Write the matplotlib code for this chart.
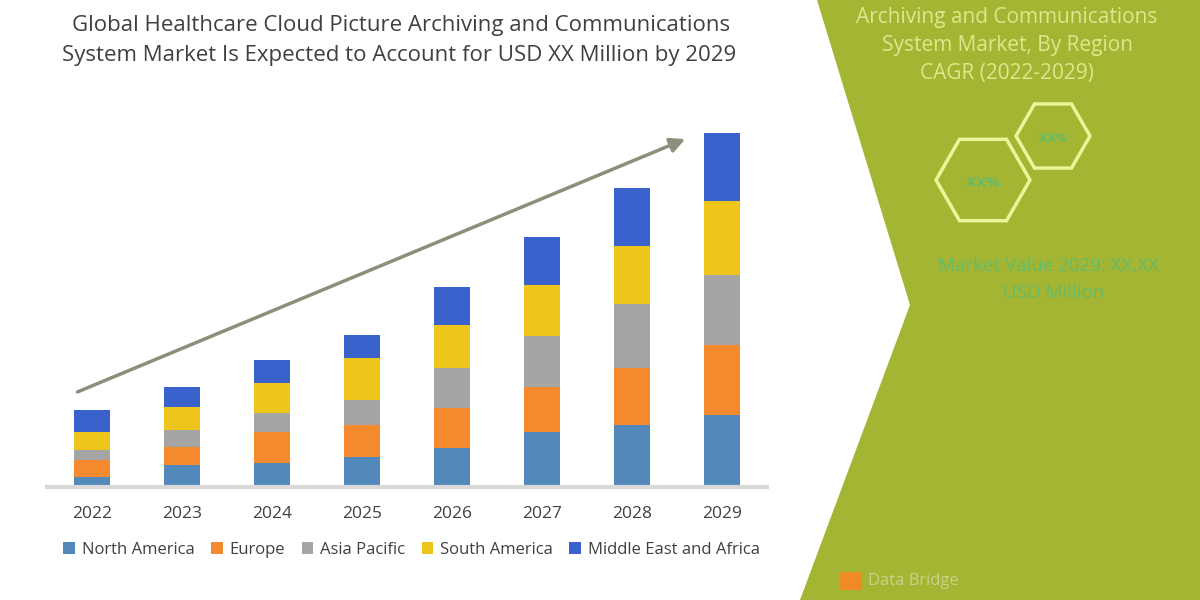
import matplotlib.pyplot as plt
import numpy as np
from matplotlib.patches import Polygon, RegularPolygon, Rectangle, FancyArrowPatch

plt.rcParams['font.family'] = ['Open Sans', 'DejaVu Sans']

years = ['2022', '2023', '2024', '2025', '2026', '2027', '2028', '2029']
regions = ['North America', 'Europe', 'Asia Pacific', 'South America', 'Middle East and Africa']
colors = ['#5289BA', '#F5892E', '#A5A5A5', '#EEC51A', '#3A62CC']

# segment heights (arbitrary units)
north_america = [10, 22, 24, 30, 39, 55, 62, 72]
europe = [17, 18, 31, 32, 40, 45, 57, 70]
asia_pacific = [10, 17, 19, 25, 40, 51, 64, 70]
south_america = [18, 23, 30, 42, 43, 51, 58, 74]
mea = [22, 20, 23, 23, 38, 48, 58, 68]

series = [north_america, europe, asia_pacific, south_america, mea]

fig = plt.figure(figsize=(12, 6), dpi=100)

# background layer in pixel coordinates
bg = fig.add_axes([0, 0, 1, 1])
bg.set_xlim(0, 1200)
bg.set_ylim(600, 0)
bg.axis('off')

green = '#A3B532'
bg.add_patch(Polygon([(817, 0), (910, 305), (800, 600), (1200, 600), (1200, 0)],
                     closed=True, color=green, lw=0))

light = '#DDE88E'
bg.text(1007, 17, 'Archiving and Communications', ha='center', va='center',
        fontsize=15, color=light)
bg.text(1007, 46, 'System Market, By Region', ha='center', va='center',
        fontsize=15, color=light)
bg.text(1007, 74, 'CAGR (2022-2029)', ha='center', va='center',
        fontsize=15, color=light)

bg.add_patch(RegularPolygon((983, 180), numVertices=6, radius=47, orientation=np.pi / 6,
                            fill=False, ec='#EEF39A', lw=2.5))
bg.add_patch(RegularPolygon((1053, 136), numVertices=6, radius=37, orientation=np.pi / 6,
                            fill=False, ec='#EEF39A', lw=2.5))
bg.text(983, 183, 'XX%', ha='center', va='center', fontsize=11, color='#63BC6A',
        fontweight='bold')
bg.text(1053, 139, 'XX%', ha='center', va='center', fontsize=9, color='#63BC6A',
        fontweight='bold')

bg.text(1048, 266, 'Market Value 2029: XX.XX', ha='center', va='center',
        fontsize=13.5, color='#63BC6A')
bg.text(1054, 293, 'USD Million', ha='center', va='center',
        fontsize=13.5, color='#63BC6A')

bg.add_patch(Rectangle((840, 572), 22, 18, color='#F08A24', lw=0))
bg.text(868, 581, 'Data Bridge', ha='left', va='center', fontsize=12, color='#C9D18A')

# title
fig.text(0.334, 1 - 25 / 600, 'Global Healthcare Cloud Picture Archiving and Communications',
         ha='center', va='center', fontsize=16, color='#404040')
fig.text(0.333, 1 - 55 / 600, 'System Market Is Expected to Account for USD XX Million by 2029',
         ha='center', va='center', fontsize=16, color='#404040')

# bar chart
ax = fig.add_axes([47 / 1200, 113 / 600, 720 / 1200, 360 / 600])
ax.patch.set_alpha(0)
x = np.arange(len(years))
bottom = np.zeros(len(years))
for name, vals, c in zip(regions, series, colors):
    ax.bar(x, vals, width=0.41, bottom=bottom, color=c, label=name, zorder=2)
    bottom += np.array(vals)

ax.set_xlim(-0.5, 7.5)
ax.set_ylim(0, 360)
for s in ['top', 'right', 'left']:
    ax.spines[s].set_visible(False)
ax.spines['bottom'].set_color('#D9D9D9')
ax.spines['bottom'].set_linewidth(3)
ax.set_yticks([])
ax.set_xticks(x)
ax.set_xticklabels(years, fontsize=12.5, color='#404040')
ax.tick_params(axis='x', length=0, pad=14)

ax.add_patch(FancyArrowPatch((-0.19, 94), (6.62, 349), arrowstyle='-|>',
                             mutation_scale=22, lw=2.5, color='#8E8E7C', zorder=3))

fig.legend(loc='center', bbox_to_anchor=(0.343, 1 - 550 / 600), ncol=5, frameon=False,
           fontsize=12, handlelength=0.7, handleheight=0.7, handletextpad=0.4,
           columnspacing=1.0, labelcolor='#404040')

fig.savefig('out.png', dpi=100)
